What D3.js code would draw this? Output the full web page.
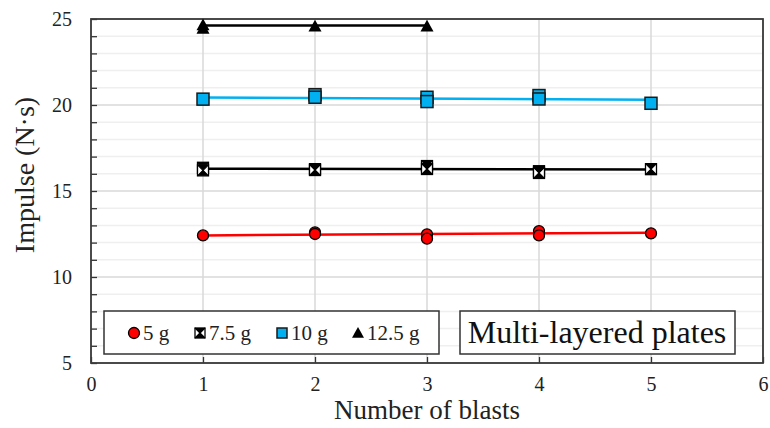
<!DOCTYPE html>
<html>
<head>
<meta charset="utf-8">
<script src="https://cdn.jsdelivr.net/npm/d3@7"></script>
<style>
  body { margin: 0; background: #fff; }
  svg { display: block; }
  svg text { font-family: "Liberation Serif", "DejaVu Serif", serif !important; }
</style>
</head>
<body>
<svg id="chart" width="770" height="428"></svg>
<script>
// measured points, several shots per blast count
const x5g = [1, 2, 2, 3, 3, 4, 4, 5];
const y5g = [12.42, 12.6, 12.5, 12.48, 12.23, 12.67, 12.42, 12.54];
const x75g = [1, 1, 2, 2, 3, 3, 4, 4, 5];
const y75g = [16.35, 16.2, 16.27, 16.22, 16.45, 16.28, 16.15, 16.05, 16.27];
const x10g = [1, 2, 2, 3, 3, 4, 4, 5];
const y10g = [20.34, 20.6, 20.45, 20.45, 20.2, 20.55, 20.35, 20.1];
const x125g = [1, 1, 2, 3];
const y125g = [24.65, 24.45, 24.58, 24.58];

// trend lines (start / end)
const trendX5g = [1, 5], trendY5g = [12.42, 12.57];
const trendX75g = [1, 5], trendY75g = [16.3, 16.25];
const trendX10g = [1, 5], trendY10g = [20.44, 20.3];
const trendX125g = [1, 3], trendY125g = [24.62, 24.62];

const xTicks = [0, 1, 2, 3, 4, 5, 6];
const yTicks = [5, 10, 15, 20, 25];
const legendLabels = ["5 g", "7.5 g", "10 g", "12.5 g"];

const svg = d3.select("#chart");
const mLeft = 91, mRight = 763, mTop = 19, mBottom = 363;

const x = d3.scaleLinear().domain([0, 6]).range([mLeft, mRight]);
const y = d3.scaleLinear().domain([5, 25]).range([mBottom, mTop]);

// grid
const grid = svg.append("g");
grid.selectAll(".minor").data(d3.range(6, 25, 1).filter(v => v % 5 != 0))
  .join("line")
  .attr("x1", mLeft).attr("x2", mRight)
  .attr("y1", d => y(d)).attr("y2", d => y(d))
  .attr("stroke", "#efefef").attr("stroke-width", 1.5);
grid.selectAll(".majy").data(yTicks)
  .join("line")
  .attr("x1", mLeft).attr("x2", mRight)
  .attr("y1", d => y(d)).attr("y2", d => y(d))
  .attr("stroke", "#d9d9d9").attr("stroke-width", 1.5);
grid.selectAll(".majx").data(xTicks)
  .join("line")
  .attr("x1", d => x(d)).attr("x2", d => x(d))
  .attr("y1", mTop).attr("y2", mBottom)
  .attr("stroke", "#d9d9d9").attr("stroke-width", 1.5);

// axes (ticks point inward)
const xAxis = d3.axisBottom(x).tickValues(xTicks).tickSize(-6).tickPadding(14).tickFormat(d3.format("d"));
const yAxis = d3.axisLeft(y).tickValues(d3.range(5, 26, 1)).tickSize(-6).tickPadding(19)
  .tickFormat(d => d % 5 == 0 ? d : "");

svg.append("g").attr("transform", `translate(0,${mBottom})`).call(xAxis)
  .attr("font-family", null)
  .call(g => g.select(".domain").remove())
  .call(g => g.selectAll("line").attr("stroke", "#333").attr("stroke-width", 1.3))
  .call(g => g.selectAll("text").attr("font-size", 20).attr("fill", "#222"));
svg.append("g").attr("transform", `translate(${mLeft},0)`).call(yAxis)
  .attr("font-family", null)
  .call(g => g.select(".domain").remove())
  .call(g => g.selectAll("line").attr("stroke", "#333").attr("stroke-width", 1.3))
  .call(g => g.selectAll("text").attr("font-size", 20).attr("fill", "#222"));

svg.append("rect").attr("x", mLeft).attr("y", mTop)
  .attr("width", mRight - mLeft).attr("height", mBottom - mTop)
  .attr("fill", "none").attr("stroke", "#3a3a3a").attr("stroke-width", 1.8);

// trend lines
const line = d3.line().x(d => x(d[0])).y(d => y(d[1]));
const trends = [
  [trendX5g, trendY5g, "#ff0000"],
  [trendX75g, trendY75g, "#000"],
  [trendX10g, trendY10g, "#00b0f0"],
  [trendX125g, trendY125g, "#000"]
];
trends.forEach(t => {
  svg.append("path").datum(d3.zip(t[0], t[1]))
    .attr("d", line).attr("fill", "none")
    .attr("stroke", t[2]).attr("stroke-width", 2.5);
});

// marker drawers
function circle(g, s) {
  g.append("circle").attr("r", s / 2).attr("fill", "#ff0000").attr("stroke", "#000").attr("stroke-width", 1.3);
}
function crossBox(g, s) {
  const h = s / 2;
  g.append("rect").attr("x", -h).attr("y", -h).attr("width", s).attr("height", s)
    .attr("fill", "#fff").attr("stroke", "#000").attr("stroke-width", 1.3);
  g.append("path").attr("d", `M${-h},${-h}L${h},${-h}L0,0Z M${-h},${h}L${h},${h}L0,0Z`).attr("fill", "#000");
  g.append("path").attr("d", `M${-h},${-h}L${h},${h}M${h},${-h}L${-h},${h}`).attr("stroke", "#000").attr("stroke-width", 1.2);
}
function square(g, s) {
  g.append("rect").attr("x", -s / 2).attr("y", -s / 2).attr("width", s).attr("height", s)
    .attr("fill", "#00b0f0").attr("stroke", "#1a1a1a").attr("stroke-width", 1.5);
}
function triangle(g, s) {
  const h = s / 2;
  g.append("path").attr("d", `M0,${-h}L${h},${h * 0.8}L${-h},${h * 0.8}Z`).attr("fill", "#000");
}

const series = [
  [x5g, y5g, circle, 11],
  [x75g, y75g, crossBox, 11],
  [x10g, y10g, square, 12],
  [x125g, y125g, triangle, 13]
];
series.forEach(s => {
  svg.append("g").selectAll("g").data(d3.zip(s[0], s[1]))
    .join("g")
    .attr("transform", d => `translate(${x(d[0])},${y(d[1])})`)
    .each(function () { s[2](d3.select(this), s[3]); });
});

// legend box
svg.append("rect").attr("x", 104).attr("y", 311).attr("width", 335).attr("height", 43)
  .attr("fill", "#fff").attr("stroke", "#333").attr("stroke-width", 1.5);
const legMarkX = [134, 200, 282, 358];
const legDraw = [circle, crossBox, square, triangle];
const legSize = [11, 10, 10, 12];
legendLabels.forEach((lab, i) => {
  const g = svg.append("g").attr("transform", `translate(${legMarkX[i]},333)`);
  legDraw[i](g, legSize[i]);
  svg.append("text").attr("x", legMarkX[i] + 9).attr("y", 340)
    .attr("font-size", 21).attr("fill", "#222").text(lab);
});

// annotation
svg.append("rect").attr("x", 460).attr("y", 311).attr("width", 275).attr("height", 43)
  .attr("fill", "#fff").attr("stroke", "#333").attr("stroke-width", 1.5);
svg.append("text").attr("x", 597).attr("y", 343).attr("text-anchor", "middle")
  .attr("font-size", 32).attr("fill", "#111").text("Multi-layered plates");

// axis titles
svg.append("text").attr("x", (mLeft + mRight) / 2).attr("y", 419).attr("text-anchor", "middle")
  .attr("font-size", 27).attr("fill", "#222").text("Number of blasts");
svg.append("text").attr("transform", "translate(34,175) rotate(-90)").attr("text-anchor", "middle")
  .attr("font-size", 28).attr("fill", "#222").text("Impulse (N·s)");
</script>
</body>
</html>
